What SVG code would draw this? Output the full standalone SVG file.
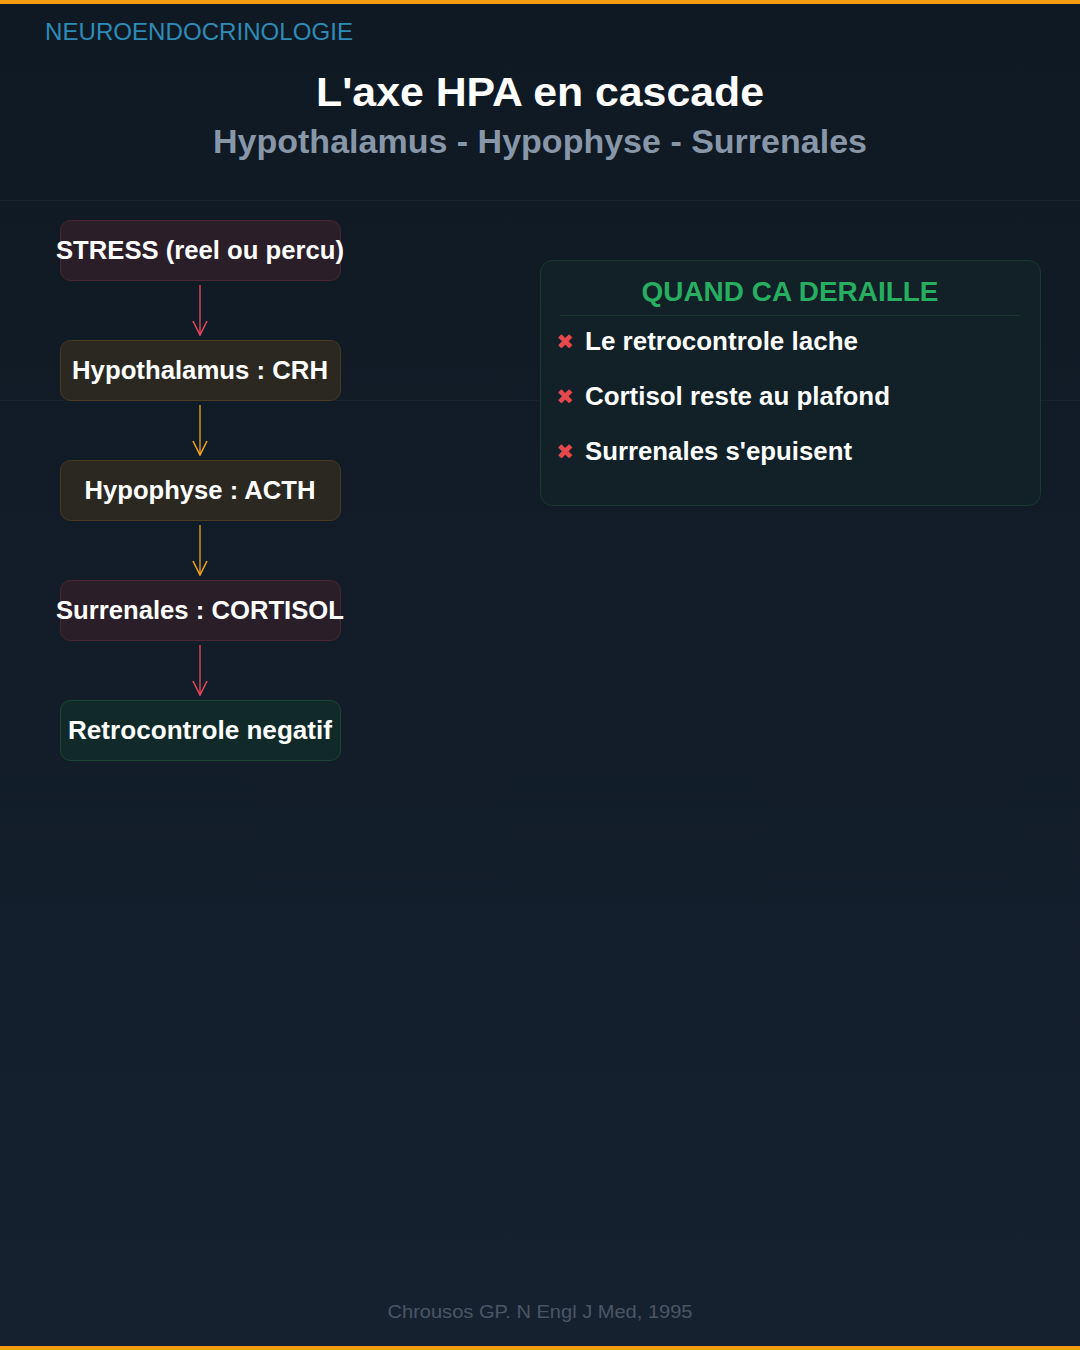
<svg xmlns="http://www.w3.org/2000/svg" width="1080" height="1350" viewBox="0 0 1080 1350">
<defs>
<linearGradient id="bg" x1="0" y1="0" x2="0" y2="1">
<stop offset="0" stop-color="#0f1923"/>
<stop offset="1" stop-color="#162130"/>
</linearGradient>
<marker id="ahRed" viewBox="0 0 16 16" refX="15" refY="8" markerWidth="16" markerHeight="16" markerUnits="userSpaceOnUse" orient="auto">
<path d="M1 1 L15 8 L1 15" fill="none" stroke="#e0485a" stroke-width="1.6"/>
</marker>
<marker id="ahOrange" viewBox="0 0 16 16" refX="15" refY="8" markerWidth="16" markerHeight="16" markerUnits="userSpaceOnUse" orient="auto">
<path d="M1 1 L15 8 L1 15" fill="none" stroke="#f0a020" stroke-width="1.6"/>
</marker>
</defs>
<style>
text { font-family: "Liberation Sans", Arial, sans-serif; }
.node-text { font-size: 25px; font-weight: bold; fill: #ffffff; text-anchor: middle; }
.red { fill: #2a1e29; stroke: #4d2533; stroke-width: 1; }
.amber { fill: #2b2822; stroke: #4a3a1f; stroke-width: 1; }
.green { fill: #112a29; stroke: #1b4535; stroke-width: 1; }
.item { font-size: 25px; font-weight: bold; fill: #ffffff; }
.cross { font-family: "DejaVu Sans", sans-serif; font-size: 21px; fill: #e5484d; text-anchor: middle; }
.conn-red { stroke: #c7404f; stroke-width: 1.6; fill: none; }
.conn-orange { stroke: #c98a1a; stroke-width: 1.6; fill: none; }
</style>
<rect x="0" y="0" width="1080" height="1350" fill="url(#bg)"/>
<rect x="0" y="0" width="1080" height="4" fill="#f39c12"/>
<rect x="0" y="1346" width="1080" height="4" fill="#f39c12"/>
<line x1="0" y1="200.5" x2="1080" y2="200.5" stroke="#18232f" stroke-width="1"/>
<line x1="0" y1="400.5" x2="1080" y2="400.5" stroke="#18232f" stroke-width="1"/>

<text x="45" y="40" font-size="24" fill="#2e8bb5" textLength="308" lengthAdjust="spacingAndGlyphs">NEUROENDOCRINOLOGIE</text>
<text x="540" y="106" font-size="41" font-weight="bold" fill="#ffffff" text-anchor="middle" textLength="448" lengthAdjust="spacingAndGlyphs">L'axe HPA en cascade</text>
<text x="540" y="153" font-size="33" font-weight="bold" fill="#8797a8" text-anchor="middle" textLength="654" lengthAdjust="spacingAndGlyphs">Hypothalamus - Hypophyse - Surrenales</text>

<g id="connectors">
<line class="conn-red" x1="200" y1="285" x2="200" y2="335" marker-end="url(#ahRed)"/>
<line class="conn-orange" x1="200" y1="405" x2="200" y2="455" marker-end="url(#ahOrange)"/>
<line class="conn-orange" x1="200" y1="525" x2="200" y2="575" marker-end="url(#ahOrange)"/>
<line class="conn-red" x1="200" y1="645" x2="200" y2="695" marker-end="url(#ahRed)"/>
</g>

<g id="node-stress">
<rect class="red" x="60.5" y="220.5" width="280" height="60" rx="10"/>
<text class="node-text" x="200" y="259" textLength="288" lengthAdjust="spacingAndGlyphs">STRESS (reel ou percu)</text>
</g>
<g id="node-hypothalamus">
<rect class="amber" x="60.5" y="340.5" width="280" height="60" rx="10"/>
<text class="node-text" x="200" y="379" textLength="256" lengthAdjust="spacingAndGlyphs">Hypothalamus : CRH</text>
</g>
<g id="node-hypophyse">
<rect class="amber" x="60.5" y="460.5" width="280" height="60" rx="10"/>
<text class="node-text" x="200" y="499" textLength="231" lengthAdjust="spacingAndGlyphs">Hypophyse : ACTH</text>
</g>
<g id="node-surrenales">
<rect class="red" x="60.5" y="580.5" width="280" height="60" rx="10"/>
<text class="node-text" x="200" y="619" textLength="288" lengthAdjust="spacingAndGlyphs">Surrenales : CORTISOL</text>
</g>
<g id="node-retrocontrole">
<rect class="green" x="60.5" y="700.5" width="280" height="60" rx="10"/>
<text class="node-text" x="200" y="739" textLength="264" lengthAdjust="spacingAndGlyphs">Retrocontrole negatif</text>
</g>

<g id="panel-deraille">
<rect x="540.5" y="260.5" width="500" height="245" rx="12" fill="#112127" stroke="#193a31" stroke-width="1"/>
<text x="790" y="301" font-size="27" font-weight="bold" fill="#27ae60" text-anchor="middle" textLength="297" lengthAdjust="spacingAndGlyphs">QUAND CA DERAILLE</text>
<line x1="560" y1="315.5" x2="1020" y2="315.5" stroke="#1c3430" stroke-width="1"/>
<text class="cross" x="565" y="349">✖</text>
<text class="item" x="585" y="350" textLength="273" lengthAdjust="spacingAndGlyphs">Le retrocontrole lache</text>
<text class="cross" x="565" y="404">✖</text>
<text class="item" x="585" y="405" textLength="305" lengthAdjust="spacingAndGlyphs">Cortisol reste au plafond</text>
<text class="cross" x="565" y="459">✖</text>
<text class="item" x="585" y="460" textLength="267" lengthAdjust="spacingAndGlyphs">Surrenales s'epuisent</text>
</g>

<text x="540" y="1318" font-size="19" fill="#4a5664" text-anchor="middle" textLength="305" lengthAdjust="spacingAndGlyphs">Chrousos GP. N Engl J Med, 1995</text>
</svg>
